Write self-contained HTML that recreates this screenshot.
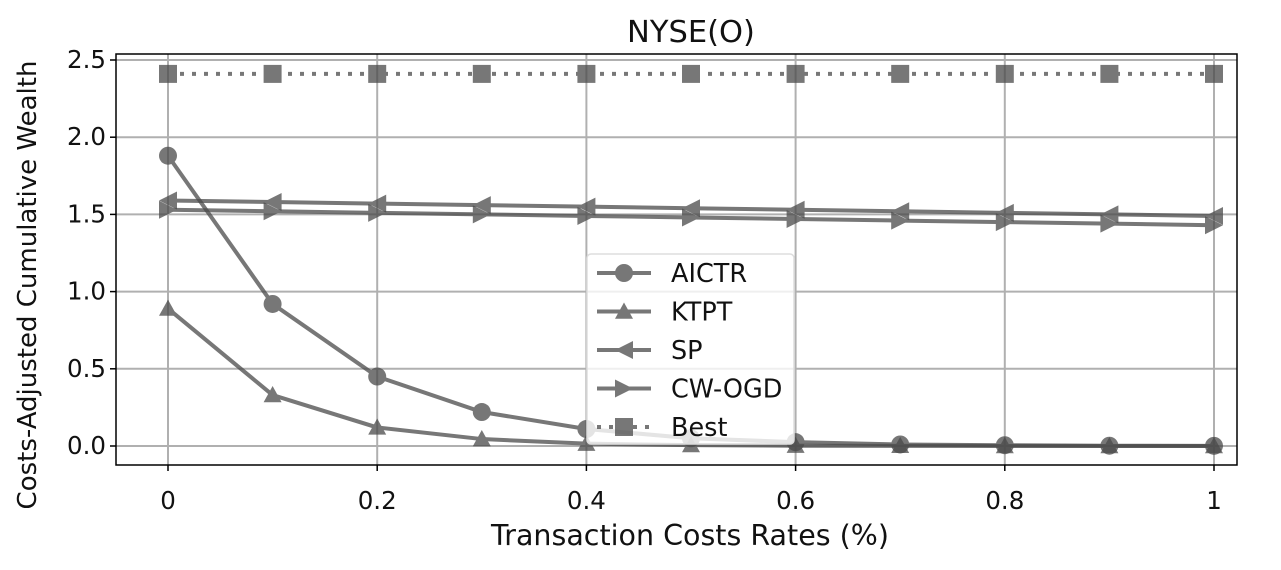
<!DOCTYPE html>
<html><head><meta charset="utf-8"><style>
body{margin:0;background:#fff;}
svg text{font-family:"DejaVu Sans","Liberation Sans",sans-serif;fill:#111;}
</style></head><body>
<svg id="chart" width="1281" height="565" xmlns="http://www.w3.org/2000/svg">
<g id="grid"></g><g id="series"></g><g id="axes"></g><g id="legend"></g>
</svg>
<script>
const xVals=[0,0.1,0.2,0.3,0.4,0.5,0.6,0.7,0.8,0.9,1];
const aictr=[1.88,0.92,0.45,0.22,0.11,0.05,0.025,0.01,0.005,0.002,0.001];
const ktpt=[0.89,0.33,0.12,0.045,0.015,0.006,0.002,0.001,0,0,0];
const sp=[1.59,1.58,1.57,1.56,1.55,1.54,1.53,1.52,1.51,1.50,1.49];
const cwogd=[1.53,1.52,1.51,1.50,1.49,1.48,1.47,1.46,1.45,1.44,1.43];
const best=[2.41,2.41,2.41,2.41,2.41,2.41,2.41,2.41,2.41,2.41,2.41];
const xTicks=[0,0.2,0.4,0.6,0.8,1];
const xTickLabels=["0","0.2","0.4","0.6","0.8","1"];
const yTicks=[0,0.5,1.0,1.5,2.0,2.5];
const yTickLabels=["0.0","0.5","1.0","1.5","2.0","2.5"];
const NS="http://www.w3.org/2000/svg";
const L=116,R=1237,T=54,B=465;
const X=v=>168+v*1046;
const Y=v=>446-v*154.4;
function mk(tag,attrs,parent){const e=document.createElementNS(NS,tag);for(const k in attrs)e.setAttribute(k,attrs[k]);parent.appendChild(e);return e;}
const grid=document.getElementById('grid'),ser=document.getElementById('series'),ax=document.getElementById('axes'),lg=document.getElementById('legend');
xTicks.forEach((t,i)=>{
 const g=mk('line',{x1:X(t),x2:X(t),y1:T,y2:B,stroke:'#b0b0b0','stroke-width':2},grid);
 
 mk('line',{x1:X(t),x2:X(t),y1:B,y2:B+6,stroke:'#000','stroke-width':1.5},ax);
 const tx=mk('text',{x:X(t),y:509,'text-anchor':'middle','font-size':24.5},ax);tx.textContent=xTickLabels[i];
 
});
yTicks.forEach((t,i)=>{
 const g=mk('line',{x1:L,x2:R,y1:Y(t),y2:Y(t),stroke:'#b0b0b0','stroke-width':2},grid);
 
 mk('line',{x1:L-6,x2:L,y1:Y(t),y2:Y(t),stroke:'#000','stroke-width':1.5},ax);
 const tx=mk('text',{x:L-10,y:Y(t)+8,'text-anchor':'end','font-size':24.5},ax);tx.textContent=yTickLabels[i];
 
});
const frame=mk('rect',{x:L,y:T,width:R-L,height:B-T,fill:'none',stroke:'#000','stroke-width':1.5},ax);

const title=mk('text',{x:691,y:42,'text-anchor':'middle','font-size':30.5},ax);title.textContent='NYSE(O)';

const xt=mk('text',{x:690,y:545,'text-anchor':'middle','font-size':28.5},ax);xt.textContent='Transaction Costs Rates (%)';

const yt=mk('text',{x:0,y:0,'text-anchor':'middle','font-size':26,transform:'translate(36,285) rotate(-90)'},ax);yt.textContent='Costs-Adjusted Cumulative Wealth';

const C='#4a4a4a',OP=0.75;
function marker(type,cx,cy,p){
 const s=9;let e;
 if(type==='o')e=mk('circle',{cx,cy,r:s},p);
 else if(type==='^')e=mk('polygon',{points:`${cx},${cy-s} ${cx-s},${cy+s*0.8} ${cx+s},${cy+s*0.8}`},p);
 else if(type==='<')e=mk('polygon',{points:`${cx-s},${cy} ${cx+s},${cy-s} ${cx+s},${cy+s}`},p);
 else if(type==='>')e=mk('polygon',{points:`${cx+s},${cy} ${cx-s},${cy-s} ${cx-s},${cy+s}`},p);
 else e=mk('rect',{x:cx-s,y:cy-s,width:2*s,height:2*s},p);
 e.setAttribute('fill',C);return e;
}
const seriesList=[['AICTR',aictr,'o',''],['KTPT',ktpt,'^',''],['SP',sp,'<',''],['CW-OGD',cwogd,'>',''],['Best',best,'s','4 8']];
seriesList.forEach(([name,vals,m,dash])=>{
 const g=mk('g',{opacity:OP},ser);
 
 const pts=vals.map((v,i)=>X(xVals[i])+','+Y(v)).join(' ');
 const pl=mk('polyline',{points:pts,fill:'none',stroke:C,'stroke-width':4,'stroke-dasharray':dash},g);
 
 vals.forEach((v,i)=>{const mkr=marker(m,X(xVals[i]),Y(v),g);
  });
});
const box=mk('rect',{x:587,y:254,width:207,height:190,rx:4,fill:'#fff','fill-opacity':0.8,stroke:'#ddd','stroke-width':1.5},lg);

seriesList.forEach(([name,vals,m,dash],i)=>{
 const y=273+i*38.5;
 const g=mk('g',{},lg);
 
 const gg=mk('g',{opacity:OP},g);
 mk('line',{x1:597,x2:651,y1:y,y2:y,stroke:C,'stroke-width':4,'stroke-dasharray':dash},gg);
 marker(m,624,y,gg);
 const t=mk('text',{x:671,y:y+9,'font-size':25.5},g);t.textContent=name;
});
</script>
</body></html>
